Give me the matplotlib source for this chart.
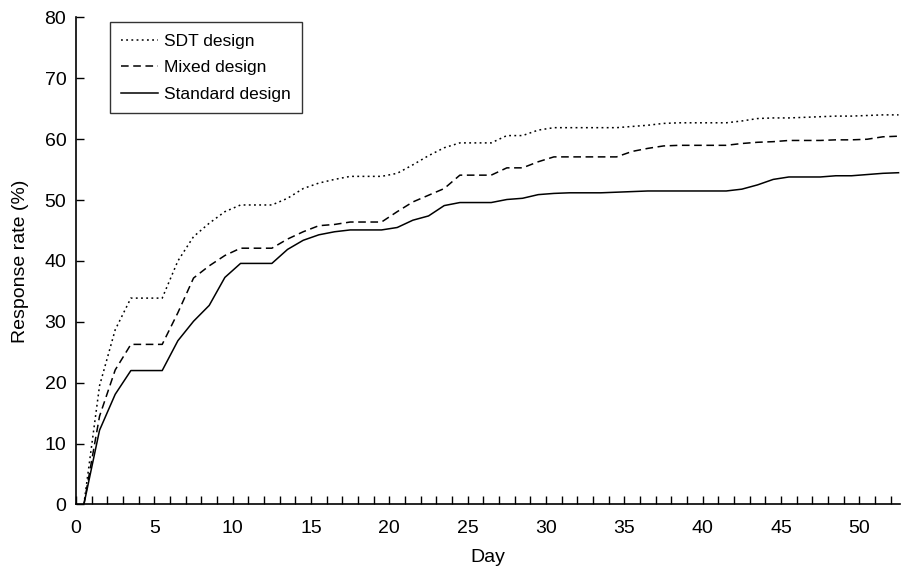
import numpy as np
import matplotlib
matplotlib.use('Agg')
import matplotlib.pyplot as plt
from matplotlib.ticker import MultipleLocator

plt.rcParams['font.family'] = ['Liberation Sans', 'DejaVu Sans']

#Datos (dia con paso de 0.5)
dias = np.arange(0.5, 53.0, 1.0)

sdt = [0, 19.5, 28.7, 33.9, 33.9, 33.9, 40.0, 44.0, 46.2, 48.1,
       49.2, 49.2, 49.2, 50.3, 51.9, 52.8, 53.4, 53.9, 53.9, 53.9,
       54.4, 55.8, 57.3, 58.6, 59.4, 59.4, 59.4, 60.6, 60.6, 61.5,
       61.9, 61.9, 61.9, 61.9, 61.9, 62.1, 62.3, 62.6, 62.7, 62.7,
       62.7, 62.7, 63.0, 63.4, 63.5, 63.5, 63.6, 63.7, 63.8, 63.8,
       63.9, 64.0, 64.0]

mixto = [0, 14.5, 22.1, 26.3, 26.3, 26.3, 31.5, 37.2, 39.2, 40.9,
         42.1, 42.1, 42.1, 43.6, 44.8, 45.8, 46.0, 46.4, 46.4, 46.4,
         48.1, 49.7, 50.8, 51.9, 54.1, 54.1, 54.1, 55.3, 55.3, 56.3,
         57.1, 57.1, 57.1, 57.1, 57.1, 58.0, 58.5, 58.9, 59.0, 59.0,
         59.0, 59.0, 59.3, 59.5, 59.6, 59.8, 59.8, 59.8, 59.9, 59.9,
         60.0, 60.4, 60.5]

estandar = [0, 12.2, 18.1, 22.0, 22.0, 22.0, 26.9, 30.1, 32.7, 37.3,
            39.6, 39.6, 39.6, 41.9, 43.4, 44.3, 44.8, 45.1, 45.1, 45.1,
            45.5, 46.7, 47.4, 49.1, 49.6, 49.6, 49.6, 50.1, 50.3, 50.9,
            51.1, 51.2, 51.2, 51.2, 51.3, 51.4, 51.5, 51.5, 51.5, 51.5,
            51.5, 51.5, 51.8, 52.5, 53.4, 53.8, 53.8, 53.8, 54.0, 54.0,
            54.2, 54.4, 54.5]

etiquetas = ['SDT design', 'Mixed design', 'Standard design']

fig = plt.figure(figsize=(9.01, 5.66), dpi=100)
ax = fig.add_axes([0.0844, 0.1087, 0.9146, 0.8604])

ax.plot(dias, sdt, color='black', linestyle=(0, (1.2, 2.2)), linewidth=1.1, label=etiquetas[0])
ax.plot(dias, mixto, color='black', linestyle=(0, (5, 3)), linewidth=1.1, label=etiquetas[1])
ax.plot(dias, estandar, color='black', linestyle='-', linewidth=1.1, label=etiquetas[2])

ax.set_xlim(0, 52.6)
ax.set_ylim(0, 80)
ax.spines['top'].set_visible(False)
ax.spines['right'].set_visible(False)
ax.spines['left'].set_linewidth(1.2)
ax.spines['bottom'].set_linewidth(1.2)

ax.xaxis.set_major_locator(MultipleLocator(5))
ax.xaxis.set_minor_locator(MultipleLocator(1))
ax.yaxis.set_major_locator(MultipleLocator(10))
ax.tick_params(axis='x', which='both', direction='in', length=6, width=1, labelsize=14, pad=11)
ax.tick_params(axis='y', which='major', direction='in', length=6, width=1, labelsize=14, pad=7)

ax.set_xlabel('Day', fontsize=14, labelpad=9)
ax.set_ylabel('Response rate (%)', fontsize=14, labelpad=11)

leg = ax.legend(loc='upper left', bbox_to_anchor=(0.041, 0.99), borderaxespad=0,
                fancybox=False, edgecolor='black', fontsize=12.5, handlelength=2.1,
                handletextpad=0.35, labelspacing=0.65, borderpad=0.65)
leg.get_frame().set_linewidth(1.0)

plt.savefig('out.png', dpi=100)
